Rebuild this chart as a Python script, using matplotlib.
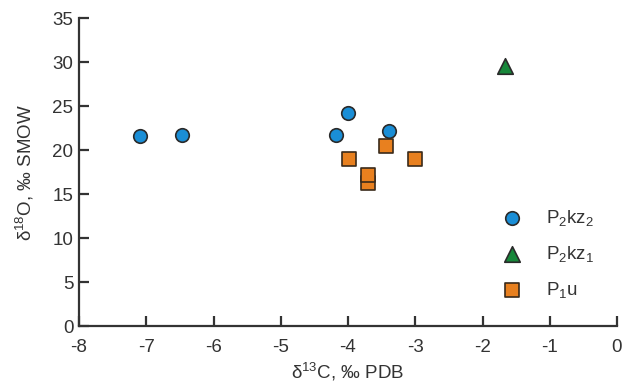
import matplotlib
matplotlib.use('Agg')
import matplotlib.pyplot as plt

plt.rcParams['font.family'] = ['Liberation Sans', 'DejaVu Sans']
plt.rcParams['mathtext.default'] = 'regular'
plt.rcParams['axes.unicode_minus'] = False

# P2kz2
kz2_x = [-7.09, -6.47, -4.18, -4.00, -3.39]
kz2_y = [21.6, 21.7, 21.7, 24.2, 22.2]
# P2kz1
kz1_x = [-1.66]
kz1_y = [29.6]
# P1u
u_x = [-3.99, -3.44, -3.01, -3.70, -3.70]
u_y = [19.0, 20.45, 19.0, 16.3, 17.2]

xticks = list(range(-8, 1))
yticks = list(range(0, 36, 5))

fig = plt.figure(figsize=(6.25, 3.85), dpi=100)
ax = fig.add_axes([0.1264, 0.153, 0.8608, 0.80])

edge = '#2a2a2a'
ax.scatter(kz2_x, kz2_y, s=95, marker='o', color='#1a8ed6', edgecolors=edge,
           linewidths=1.2, label='P$_2$kz$_2$', zorder=3)
ax.scatter(kz1_x, kz1_y, s=125, marker='^', color='#17873a', edgecolors=edge,
           linewidths=1.2, label='P$_2$kz$_1$', zorder=3)
ax.scatter(u_x, u_y, s=100, marker='s', color='#e8801f', edgecolors='#3a2a1a',
           linewidths=1.2, label='P$_1$u', zorder=3)

ax.set_xlim(-8, 0)
ax.set_ylim(0, 35)
ax.set_xticks(xticks)
ax.set_yticks(yticks)
ax.spines['top'].set_visible(False)
ax.spines['right'].set_visible(False)
for s in ['left', 'bottom']:
    ax.spines[s].set_linewidth(1.6)
    ax.spines[s].set_color('#333333')
ax.tick_params(direction='in', length=7, width=1.6, colors='#333333',
               labelsize=13.5, labelcolor='#333333', pad=4)
ax.tick_params(axis='x', pad=9.5)

ax.set_xlabel('δ$^{13}$C, ‰ PDB', fontsize=13.5, color='#333333', labelpad=3)
ax.set_ylabel('δ$^{18}$O, ‰ SMOW', fontsize=13.5, color='#333333', labelpad=12)

ax.legend(loc='center left', bbox_to_anchor=(0.739, 0.235), frameon=False,
          fontsize=13.5, labelspacing=0.85, handletextpad=0.8, markerscale=1.0,
          labelcolor='#333333')

plt.savefig('out.png', dpi=100)
